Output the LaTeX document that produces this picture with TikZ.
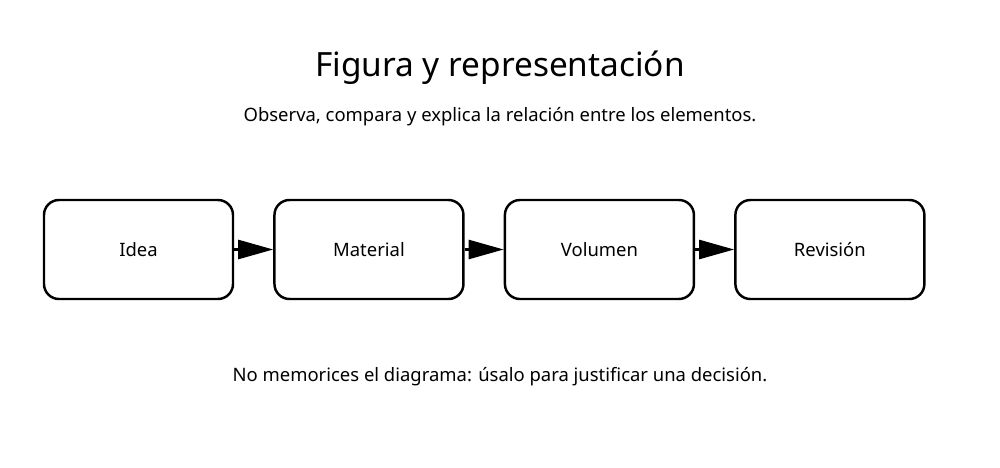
\documentclass[tikz,border=0pt]{standalone}
\usepackage{fontspec}
\setmainfont{Noto Sans}
\usetikzlibrary{positioning,arrows.meta}

\begin{document}
\begin{tikzpicture}[
        stage/.style={
            rectangle, rounded corners=0.3cm, line width=1.4pt, draw=black,
            minimum width=3.78cm, minimum height=1.98cm, font=\fontsize{10.5}{12}\selectfont
        },
        flow/.style={
            line width=1.4pt, -{Triangle[length=0.7cm,width=0.38cm]}
        },
    ]
    \useasboundingbox (0,0) rectangle (20,9.34);
    \node (title) at (10,7.98) {\fontsize{19}{22}\selectfont\bfseries Figura y representación};
    \node (subtitle) at (10,7.0) {\fontsize{10.5}{12}\selectfont Observa, compara y explica la relación entre los elementos.};

    \node (idea) [stage] at (2.77,4.35) {Idea};
    \node (material) [stage, right=0.78cm of idea] {Material};
    \node (volumen) [stage, right=0.78cm of material] {Volumen};
    \node (revision) [stage, right=0.78cm of volumen] {Revisión};
    \path (idea) edge[flow] (material);
    \path (material) edge[flow] (volumen);
    \path (volumen) edge[flow] (revision);

    \node (note) at (10,1.8) {\fontsize{10.5}{12}\selectfont No memorices el diagrama: úsalo para justificar una decisión.};
\end{tikzpicture}
\end{document}
